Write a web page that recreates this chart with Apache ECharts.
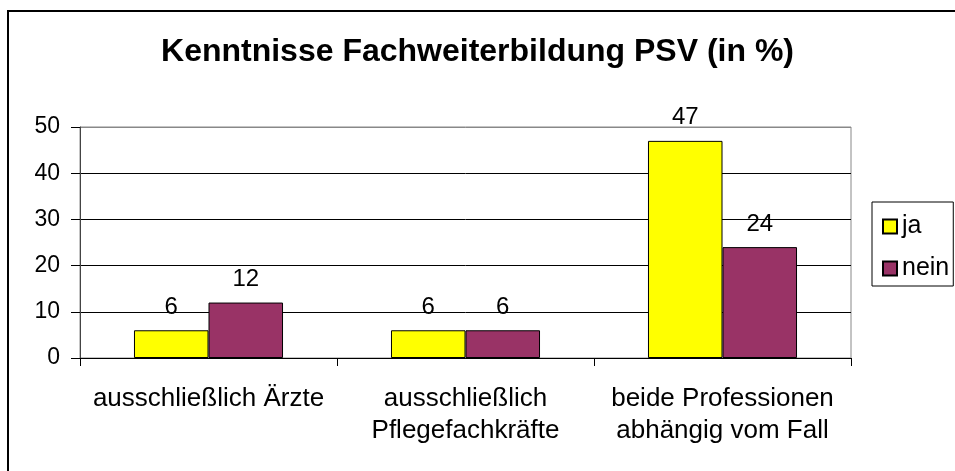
<!DOCTYPE html>
<html>
<head>
<meta charset="utf-8">
<script src="https://cdn.jsdelivr.net/npm/echarts@6/dist/echarts.min.js"></script>
<style>
html, body { margin: 0; padding: 0; background: #fff; }
#chart { width: 955px; height: 471px; }
</style>
</head>
<body>
<div id="chart"></div>
<script>
var categories = ['ausschließlich Ärzte', 'ausschließlich\nPflegefachkräfte', 'beide Professionen\nabhängig vom Fall'];
var seriesNames = ['ja', 'nein'];
var jaValues = [6, 6, 47];
var neinValues = [12, 6, 24];
var yTicks = [0, 10, 20, 30, 40, 50];

var font = '"Liberation Sans", Arial, sans-serif';
var chart = echarts.init(document.getElementById('chart'));

var barLabel = {
    show: true,
    position: 'top',
    distance: 11,
    color: '#000',
    fontFamily: font,
    fontSize: 24
};

var option = {
    backgroundColor: '#fff',
    animation: false,
    title: {
        text: 'Kenntnisse Fachweiterbildung PSV (in %)',
        left: 'center',
        top: 31,
        textStyle: { fontFamily: font, fontSize: 32, fontWeight: 'bold', color: '#000' }
    },
    graphic: [{
        type: 'rect',
        shape: { x: 8, y: 11, width: 1000, height: 500 },
        style: { fill: 'none', stroke: '#000', lineWidth: 2 },
        silent: true
    }],
    legend: {
        data: seriesNames,
        orient: 'vertical',
        left: 872,
        top: 202,
        padding: [12, 4, 5, 10],
        itemGap: 17,
        itemWidth: 14,
        itemHeight: 14,
        icon: 'rect',
        borderColor: '#000',
        borderWidth: 1,
        backgroundColor: '#fff',
        textStyle: { fontFamily: font, fontSize: 25, color: '#000' }
    },
    grid: {
        left: 80,
        right: 104,
        top: 127,
        bottom: 113,
        show: true,
        borderColor: '#888',
        borderWidth: 1,
        backgroundColor: '#fff'
    },
    xAxis: {
        type: 'category',
        data: categories,
        axisLine: { lineStyle: { color: '#000', width: 1 } },
        axisTick: { show: true, length: 8, lineStyle: { color: '#000' } },
        axisLabel: {
            margin: 25,
            fontFamily: font,
            fontSize: 26,
            lineHeight: 32,
            color: '#000',
            interval: 0
        }
    },
    yAxis: {
        type: 'value',
        min: yTicks[0],
        max: yTicks[yTicks.length - 1],
        interval: 10,
        axisLine: { show: true, lineStyle: { color: '#444', width: 1 } },
        axisTick: { show: true, length: 9, lineStyle: { color: '#000' } },
        axisLabel: { margin: 20, fontFamily: font, fontSize: 23, color: '#000' },
        splitLine: {
            show: true,
            lineStyle: { color: ['#000', '#000', '#000', '#000', '#000', '#888'], width: 1 }
        }
    },
    series: [
        {
            name: seriesNames[0],
            type: 'bar',
            data: jaValues,
            barGap: '0%',
            barCategoryGap: '42%',
            itemStyle: { color: '#ffff00', borderColor: '#000', borderWidth: 1 },
            label: barLabel
        },
        {
            name: seriesNames[1],
            type: 'bar',
            data: neinValues,
            barGap: '0%',
            barCategoryGap: '42%',
            itemStyle: { color: '#993366', borderColor: '#000', borderWidth: 1 },
            label: barLabel
        }
    ]
};

chart.setOption(option);
</script>
</body>
</html>
